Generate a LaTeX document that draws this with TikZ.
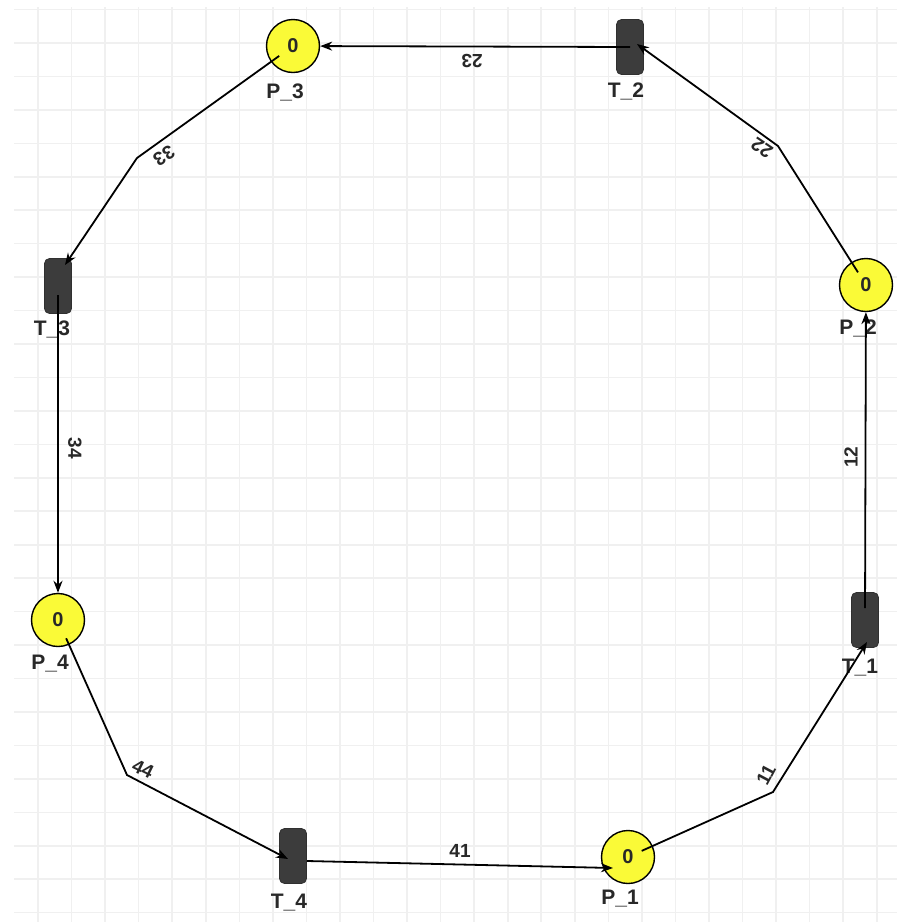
\documentclass[tikz,border=0pt]{standalone}
\usepackage{fontspec}
\setmainfont{Liberation Sans}
\usetikzlibrary{arrows.meta,calc}
\definecolor{gridc}{RGB}{240,240,240}
\definecolor{placec}{RGB}{250,250,55}
\definecolor{transc}{RGB}{60,60,60}
\definecolor{textc}{RGB}{40,40,40}
\begin{document}
\begin{tikzpicture}[x=1pt,y=-1pt,
  place/.style={circle,draw=black,line width=1.4pt,fill=placec,minimum size=53pt,inner sep=0pt,
    font=\fontsize{20}{20}\selectfont\bfseries,text=textc},
  trans/.style={rectangle,rounded corners=5pt,fill=transc,draw=transc!80!black,line width=0.8pt,
    minimum width=27pt,minimum height=55pt,inner sep=0pt},
  nlabel/.style={anchor=base,font=\fontsize{21}{21}\selectfont\bfseries,text=textc,inner sep=0pt},
  alabel/.style={font=\fontsize{19}{19}\selectfont\bfseries,text=textc,inner sep=0pt},
  arc/.style={line width=1.8pt,draw=black,-{Stealth[length=12pt,width=9pt]}}]
% canvas
\fill[white] (0,0) rectangle (897,922);
\useasboundingbox (0,0) rectangle (897,922);
% grid
\foreach \i in {0,...,25} \draw[gridc,line width=1.6pt] ({38+33.55*\i},7) -- ({38+33.55*\i},922);
\foreach \j in {0,...,27} \draw[gridc,line width=1.6pt] (14,{9.5+33.45*\j}) -- (897,{9.5+33.45*\j});
% nodes
\node[place] (P3) at (293,46) {0};
\node[trans] (T2) at (630,47) {};
\node[place] (P2) at (866,285) {0};
\node[trans] (T1) at (865,620) {};
\node[place] (P1) at (628,857) {0};
\node[trans] (T4) at (293,856) {};
\node[place] (P4) at (58,620) {0};
\node[trans] (T3) at (58,286) {};
% node names
\node[nlabel] (lP3) at ([shift={(-8,52)}]P3.center) {P\_3};
\node[nlabel] (lT2) at ([shift={(-4,50)}]T2.center) {T\_2};
\node[nlabel] (lP2) at ([shift={(-8,49)}]P2.center) {P\_2};
\node[nlabel] (lT1) at ([shift={(-5,53)}]T1.center) {T\_1};
\node[nlabel] (lP1) at ([shift={(-8,47)}]P1.center) {P\_1};
\node[nlabel] (lT4) at ([shift={(-4,52)}]T4.center) {T\_4};
\node[nlabel] (lP4) at ([shift={(-8,49)}]P4.center) {P\_4};
\node[nlabel] (lT3) at ([shift={(-6,49)}]T3.center) {T\_3};
% waypoints
\coordinate (w11) at (773,792);
\coordinate (w22) at (778,146);
\coordinate (w33) at (137,158);
\coordinate (w44) at (127,775);
% arcs
\draw[arc,shorten <=15pt] (P1.center) -- (w11) -- ([shift={(2,22)}]T1.center);
\draw[arc,shorten <=12pt] (T1.center) -- (P2);
\draw[arc,shorten <=15pt] (P2.center) -- (w22) -- ([shift={(7,-3)}]T2.center);
\draw[arc] (T2.center) -- (P3);
\draw[arc,shorten <=17pt] (P3.center) -- (w33) -- ([shift={(7,-21)}]T3.center);
\draw[arc,shorten <=9pt] (T3.center) -- (P4);
\draw[arc,shorten <=20pt] (P4.center) -- (w44) -- ([shift={(-5,3)}]T4.center);
\draw[arc] ([shift={(14,5)}]T4.center) -- ([shift={(-15,11)}]P1.center);
% arc weights
\node[alabel,rotate=180] (a23) at (472,61) {23};
\node[alabel,rotate=146] (a22) at (762,148) {22};
\node[alabel,rotate=90] (a12) at (851,457) {12};
\node[alabel,rotate=62] (a11) at (766,775) {11};
\node[alabel] (a41) at (460,851) {41};
\node[alabel,rotate=-26] (a44) at (143,769) {44};
\node[alabel,rotate=-90] (a34) at (75,448) {34};
\node[alabel,rotate=213] (a33) at (164,156) {33};
\end{tikzpicture}
\end{document}
